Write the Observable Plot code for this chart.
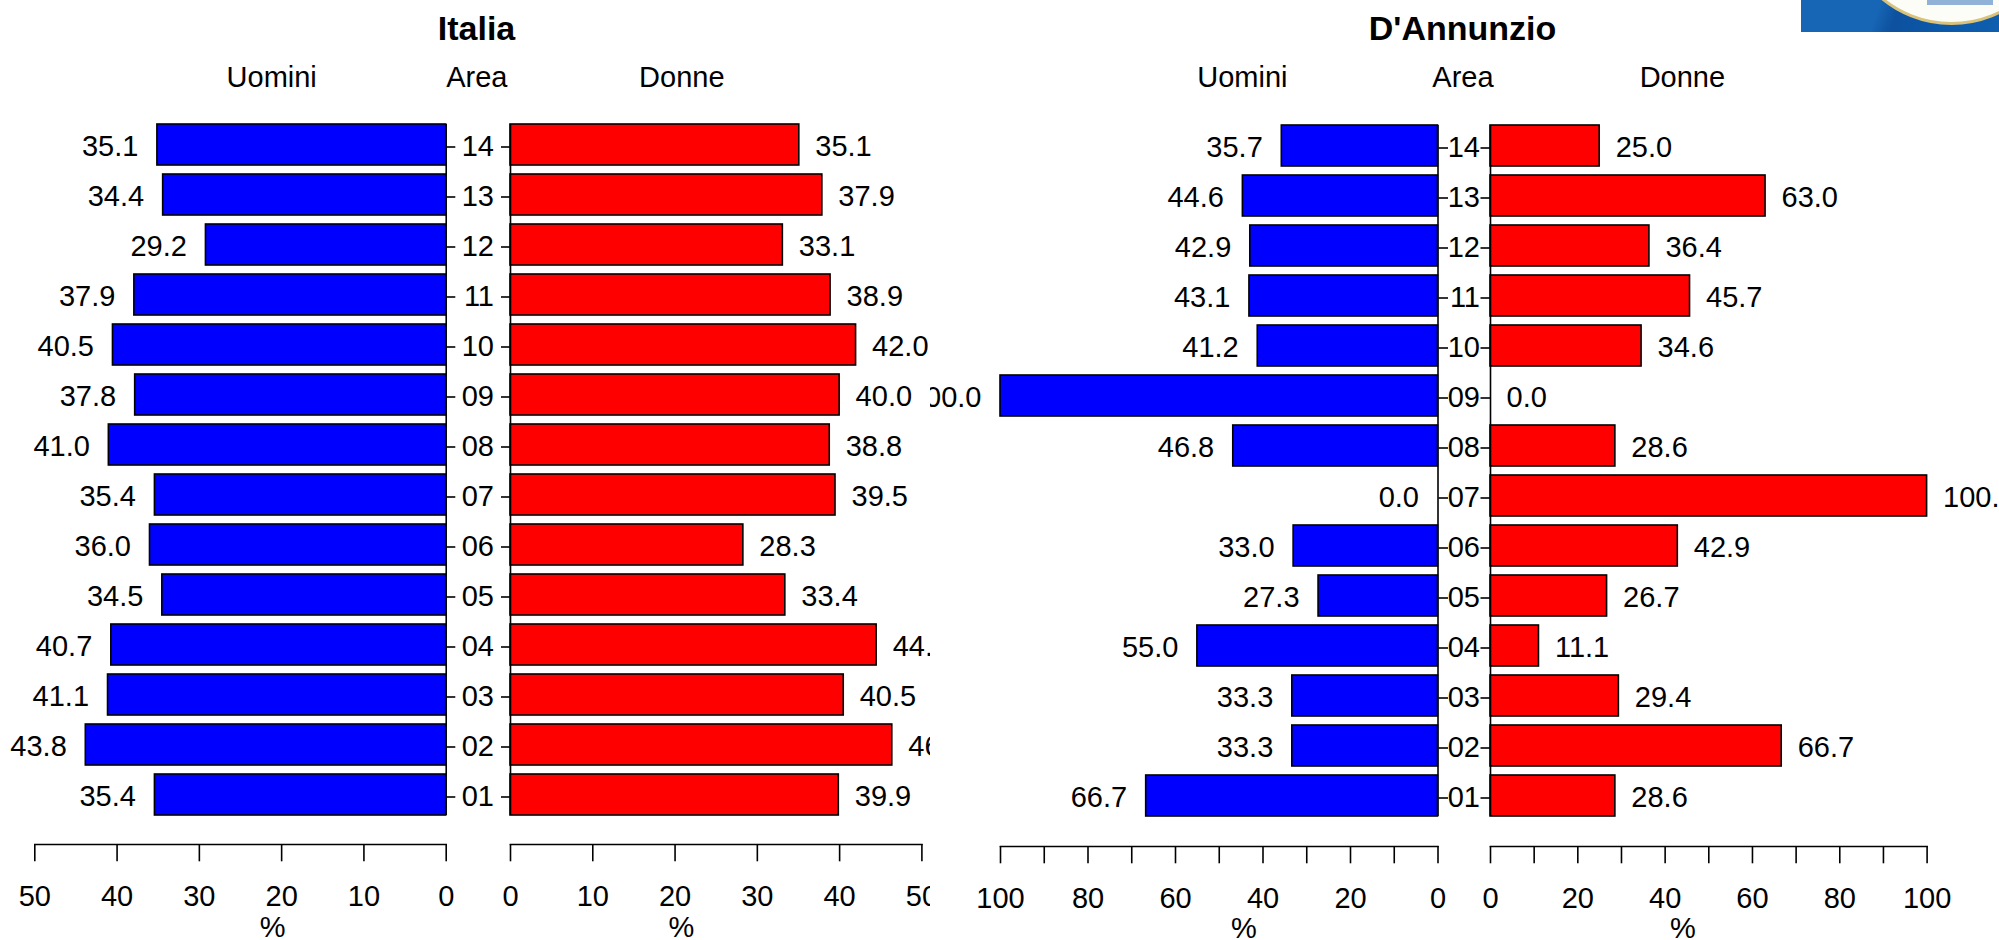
<!DOCTYPE html>
<html>
<head>
<meta charset="utf-8">
<script src="https://cdn.jsdelivr.net/npm/d3@7"></script>
<script src="https://cdn.jsdelivr.net/npm/@observablehq/plot@0.6"></script>
<style>
  html, body { margin: 0; padding: 0; background: #fff; }
  #root { position: relative; width: 1999px; height: 940px; overflow: hidden;
          font-family: "Liberation Sans", Arial, Helvetica, sans-serif; color: #000; }
  .clip { position: absolute; top: 0; height: 940px; overflow: hidden; }
  .clip svg { position: absolute; top: 0; max-width: none !important; background: none !important; }
  .lab { position: absolute; transform: translateX(-50%); white-space: nowrap; line-height: 1; }
  .title { font-weight: bold; font-size: 34px; }
  .head, .pct { font-size: 29px; }
  #logo { position: absolute; left: 1801px; top: 0; width: 198px; height: 32px; overflow: hidden;
          background: linear-gradient(110deg, #1766b5 0%, #1766b5 38%, #0d519f 48%, #0b58a8 70%, #0f5fae 100%); }
  #logo .ring { position: absolute; left: 1841px; top: -196px; width: 221px; height: 221px; border-radius: 50%;
          background: #fdfdf8; box-sizing: border-box; border: 3px solid #d9c27a; transform: translateX(-1801px); }
  #logo .inner { position: absolute; left: 126px; top: 0; width: 66px; height: 5px; background: #8fb2d6; }
</style>
</head>
<body>
<div id="root"></div>
<script>
// ---------------- data ----------------
const areas = ["14","13","12","11","10","09","08","07","06","05","04","03","02","01"];

const italiaUomini = [35.1, 34.4, 29.2, 37.9, 40.5, 37.8, 41.0, 35.4, 36.0, 34.5, 40.7, 41.1, 43.8, 35.4];
const italiaDonne  = [35.1, 37.9, 33.1, 38.9, 42.0, 40.0, 38.8, 39.5, 28.3, 33.4, 44.5, 40.5, 46.4, 39.9];

const dannUomini = [35.7, 44.6, 42.9, 43.1, 41.2, 100.0, 46.8, 0.0, 33.0, 27.3, 55.0, 33.3, 33.3, 66.7];
const dannDonne  = [25.0, 63.0, 36.4, 45.7, 34.6, 0.0, 28.6, 100.0, 42.9, 26.7, 11.1, 29.4, 66.7, 28.6];

const italiaTicks = [0, 10, 20, 30, 40, 50];
const italiaTickLabels = [0, 10, 20, 30, 40, 50];
const dannTicks = [0, 10, 20, 30, 40, 50, 60, 70, 80, 90, 100];
const dannTickLabels = [0, 20, 40, 60, 80, 100];

const titles = ["Italia", "D'Annunzio"];
const heads = ["Uomini", "Area", "Donne"];
const axisLabel = "%";

// ---------------- layout ----------------
const W = 1999, H = 940;
const FONT = '"Liberation Sans", Arial, Helvetica, sans-serif';
const FS = 29;
const root = document.getElementById("root");

function panel({values, men, max, range, yRange, axisAt, ticks, tickLabels, midTick, midPad, fill}) {
  const data = areas.map((a, i) => ({area: a, value: values[i]}));
  return Plot.plot({
    width: W, height: H,
    marginLeft: range[0], marginRight: W - range[1],
    marginTop: yRange[0], marginBottom: H - axisAt,
    x: {domain: men ? [max, 0] : [0, max], range},
    y: {domain: areas, range: yRange, paddingInner: 0.19, paddingOuter: 0.095},
    style: {background: "none", maxWidth: "none", fontFamily: FONT, fontSize: FS + "px", overflow: "visible"},
    marks: [
      Plot.barX(data, {x1: 0, x2: "value", y: "area", fill, stroke: "black", strokeWidth: 1.6}),
      Plot.ruleX([0], {y1: () => areas[0], y2: () => areas[areas.length - 1], stroke: "black", strokeWidth: 1.6}),
      Plot.text(data, {
        x: "value", y: "area", text: d => d.value.toFixed(1),
        textAnchor: men ? "end" : "start", dx: men ? -19 : 16, dy: 2,
        fontSize: FS, fill: "black"
      }),
      Plot.axisY({
        anchor: men ? "right" : "left", tickSize: midTick, tickPadding: midPad,
        tickFormat: men ? () => "" : d => d, label: null,
        fontSize: FS, dy: 2, strokeWidth: 1.6, color: "black"
      }),
      Plot.frame({anchor: "bottom", stroke: "black", strokeWidth: 1.6}),
      Plot.axisX({
        anchor: "bottom", ticks, tickSize: 17.3, tickPadding: 24,
        tickFormat: d => tickLabels.includes(d) ? String(d) : "",
        label: null, fontSize: FS, strokeWidth: 1.6, color: "black"
      })
    ]
  });
}

// left half (Italia), clipped at x = 930
const leftClip = document.createElement("div");
leftClip.className = "clip";
leftClip.style.left = "0px";
leftClip.style.width = "930px";
root.appendChild(leftClip);

const rightClip = document.createElement("div");
rightClip.className = "clip";
rightClip.style.left = "930px";
rightClip.style.width = (W - 930) + "px";
root.appendChild(rightClip);

const itY = [117.9, 819.8], dnY = [118.9, 821.3];

const p1 = panel({values: italiaUomini, men: true, max: 50, range: [34.3, 445.7], yRange: itY, axisAt: 844,
  ticks: italiaTicks, tickLabels: italiaTickLabels, midTick: 8.6, midPad: 7.5, fill: "#0000ff"});
const p2 = panel({values: italiaDonne, men: false, max: 50, range: [510, 921.4], yRange: itY, axisAt: 844,
  ticks: italiaTicks, tickLabels: italiaTickLabels, midTick: 9, midPad: 7.5, fill: "#ff0000"});
const p3 = panel({values: dannUomini, men: true, max: 100, range: [1000, 1437.5], yRange: dnY, axisAt: 846,
  ticks: dannTicks, tickLabels: dannTickLabels, midTick: 9.5, midPad: 1, fill: "#0000ff"});
const p4 = panel({values: dannDonne, men: false, max: 100, range: [1490, 1926.6], yRange: dnY, axisAt: 846,
  ticks: dannTicks, tickLabels: dannTickLabels, midTick: 9.5, midPad: 1, fill: "#ff0000"});

[p1, p2].forEach(s => { s.style.left = "0px"; leftClip.appendChild(s); });
[p3, p4].forEach(s => { s.style.left = "-930px"; rightClip.appendChild(s); });

// texts
function addText(txt, cls, cx, top) {
  const d = document.createElement("div");
  d.className = "lab " + cls;
  d.textContent = txt;
  d.style.left = cx + "px";
  d.style.top = top + "px";
  root.appendChild(d);
}
addText(titles[0], "title", 476.5, 11.2);
addText(titles[1], "title", 1462.5, 11.2);
[[271.7, 476.8, 681.8], [1242.4, 1463, 1682.4]].forEach(xs => {
  xs.forEach((x, i) => addText(heads[i], "head", x, 62.8));
});
[272.6, 681.4].forEach(x => addText(axisLabel, "pct", x, 912.5));
[1244, 1683].forEach(x => addText(axisLabel, "pct", x, 914));

// logo fragment in the top-right corner
const logo = document.createElement("div");
logo.id = "logo";
logo.innerHTML = '<div class="ring" style="left:40px;transform:none"></div><div class="inner"></div>';
root.appendChild(logo);
</script>
</body>
</html>
